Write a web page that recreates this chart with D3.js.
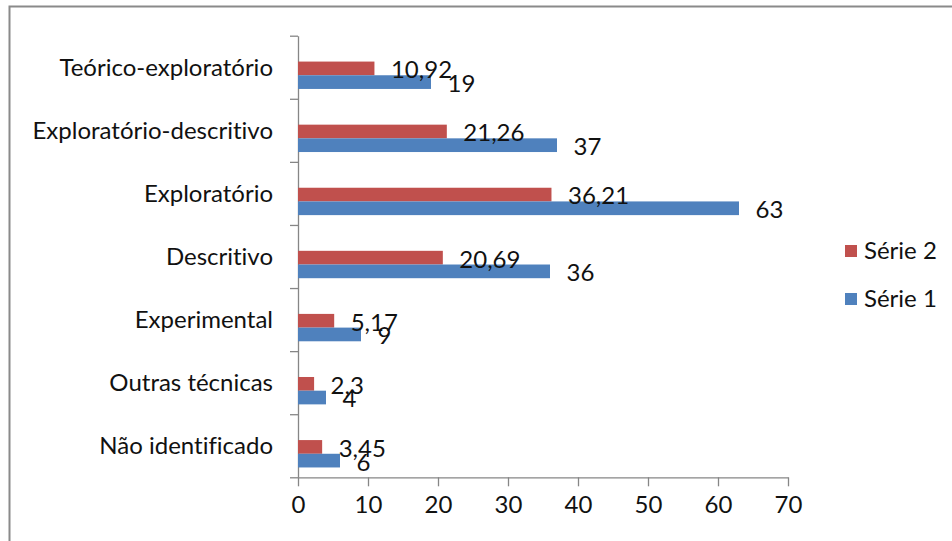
<!DOCTYPE html>
<html>
<head>
<meta charset="utf-8">
<script src="https://d3js.org/d3.v7.min.js"></script>
<style>
  body { margin: 0; background: #fff; }
  text { font-family: Lato, "Noto Sans", sans-serif; fill: #111; font-variant-ligatures: none; }
</style>
</head>
<body>
<div id="chart"></div>
<script>
// categories top to bottom
var categories = ["Teórico-exploratório", "Exploratório-descritivo", "Exploratório",
  "Descritivo", "Experimental", "Outras técnicas", "Não identificado"];
var serie1 = [19, 37, 63, 36, 9, 4, 6];
var serie2 = [10.92, 21.26, 36.21, 20.69, 5.17, 2.3, 3.45];
var serie1Labels = ["19", "37", "63", "36", "9", "4", "6"];
var serie2Labels = ["10,92", "21,26", "36,21", "20,69", "5,17", "2,3", "3,45"];
var xTicks = [0, 10, 20, 30, 40, 50, 60, 70];
var legendNames = ["Série 2", "Série 1"];

var W = 952, H = 541;
var red = "#C0504D", blue = "#4F81BD", axisCol = "#868686";
var fs = "24px";

var svg = d3.select("#chart").append("svg").attr("width", W).attr("height", H);

// outer chart border (only top and left visible)
svg.append("rect")
  .attr("x", 9.5).attr("y", 6.5).attr("width", 1000).attr("height", 600)
  .attr("fill", "#fff").attr("stroke", "#8a8a8a").attr("stroke-width", 2);

var x = d3.scaleLinear().domain([0, 70]).range([298, 788]);
var y = d3.scaleBand().domain(categories).range([35.7, 477.3]);
var bw = y.bandwidth();
var barH = bw * 0.217;

// y axis with ticks at the band boundaries
var yEdge = d3.scaleLinear().domain([0, categories.length]).range([35.7, 477.3]);
var gy = svg.append("g").attr("transform", "translate(" + x(0) + ",0)")
  .call(d3.axisLeft(yEdge).ticks(categories.length).tickFormat("").tickSize(8).tickSizeOuter(0));
gy.selectAll("line, path").attr("stroke", axisCol).attr("stroke-width", 1.3);

// x axis
var gx = svg.append("g").attr("transform", "translate(0," + 477.3 + ")")
  .call(d3.axisBottom(x).tickValues(xTicks).tickSize(9).tickSizeOuter(0).tickPadding(10));
gx.selectAll("line, path").attr("stroke", axisCol).attr("stroke-width", 1.3);
gx.selectAll("text").style("font-size", fs).attr("fill", "#111")
  .style("font-family", "Lato, 'Noto Sans', sans-serif");

// category labels
svg.append("g").selectAll("text").data(categories).join("text")
  .attr("x", 273)
  .attr("y", function(d) { return y(d) + bw / 2; })
  .attr("dy", "0.35em")
  .attr("text-anchor", "end")
  .style("font-size", fs)
  .text(function(d) { return d; });

// bars
svg.append("g").selectAll("rect").data(categories).join("rect")
  .attr("x", x(0))
  .attr("y", function(d) { return y(d) + bw * 0.41; })
  .attr("width", function(d, i) { return x(serie2[i]) - x(0); })
  .attr("height", barH)
  .attr("fill", red);

svg.append("g").selectAll("rect").data(categories).join("rect")
  .attr("x", x(0))
  .attr("y", function(d) { return y(d) + bw * 0.41 + barH; })
  .attr("width", function(d, i) { return x(serie1[i]) - x(0); })
  .attr("height", barH)
  .attr("fill", blue);

// value labels
svg.append("g").selectAll("text").data(categories).join("text")
  .attr("x", function(d, i) { return x(serie2[i]) + 16.5; })
  .attr("y", function(d) { return y(d) + bw * 0.41 + barH / 2 + 1.5; })
  .attr("dy", "0.35em")
  .style("font-size", fs)
  .text(function(d, i) { return serie2Labels[i]; });

svg.append("g").selectAll("text").data(categories).join("text")
  .attr("x", function(d, i) { return x(serie1[i]) + 16.5; })
  .attr("y", function(d) { return y(d) + bw * 0.41 + barH * 1.5 + 1.5; })
  .attr("dy", "0.35em")
  .style("font-size", fs)
  .text(function(d, i) { return serie1Labels[i]; });

// legend
var leg = svg.append("g").selectAll("g").data(legendNames).join("g")
  .attr("transform", function(d, i) { return "translate(845," + (251 + i * 48) + ")"; });
leg.append("rect").attr("x", 0).attr("y", -6).attr("width", 12).attr("height", 12)
  .attr("fill", function(d, i) { return i === 0 ? red : blue; });
leg.append("text").attr("x", 19).attr("y", 0).attr("dy", "0.35em")
  .style("font-size", fs).text(function(d) { return d; });
</script>
</body>
</html>
